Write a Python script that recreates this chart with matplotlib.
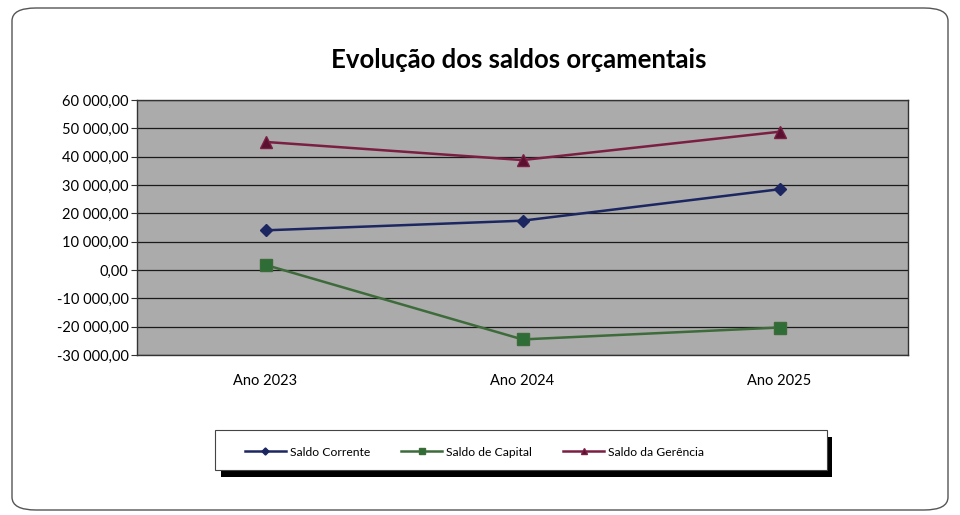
import matplotlib.pyplot as plt
from matplotlib.patches import FancyBboxPatch, Rectangle
from matplotlib.ticker import FuncFormatter, MultipleLocator

categories = ["Ano 2023", "Ano 2024", "Ano 2025"]
saldo_corrente = [14000, 17400, 28500]
saldo_capital = [1800, -24500, -20300]
saldo_gerencia = [45200, 38800, 48800]
series_names = ["Saldo Corrente", "Saldo de Capital", "Saldo da Gerência"]

W, H = 960, 515


def fmt_pt(v, pos):
    s = f"{abs(v):,.2f}".replace(",", " ").replace(".", ",")
    return ("-" if v < 0 else "") + s


def px_rect(x0, y0, x1, y1):
    # pixel box (top-left origin) -> figure fraction (x, y, w, h)
    return x0 / W, 1 - y1 / H, (x1 - x0) / W, (y1 - y0) / H


def main():
    plt.rcParams["font.family"] = ["Lato", "DejaVu Sans"]
    fig = plt.figure(figsize=(9.6, 5.15), dpi=100)
    fig.patch.set_facecolor("white")

    # outer rounded chart border
    bx, by, bw, bh = px_rect(12, 8, 948, 510)
    fig.patches.append(FancyBboxPatch((bx, by), bw, bh,
                                      boxstyle="round,pad=0,rounding_size=0.025",
                                      transform=fig.transFigure, fill=False,
                                      edgecolor="#555555", linewidth=1.0))

    ax = fig.add_axes(px_rect(137, 100, 908, 355))
    ax.set_facecolor("#ababab")
    x = range(len(categories))

    ax.plot(x, saldo_corrente, color="#1c2660", marker="D", markersize=6,
            linewidth=1.8, label=series_names[0])
    ax.plot(x, saldo_capital, color="#3d6b3a", marker="s", markersize=8,
            markerfacecolor="#2e6e36", linewidth=1.8, label=series_names[1])
    ax.plot(x, saldo_gerencia, color="#7a1e42", marker="^", markersize=8,
            markerfacecolor="#5a1030", linewidth=1.8, label=series_names[2])

    ax.set_xlim(-0.5, 2.5)
    ax.set_ylim(-30000, 60000)
    ax.yaxis.set_major_locator(MultipleLocator(10000))
    ax.yaxis.set_major_formatter(FuncFormatter(fmt_pt))
    ax.set_xticks(list(x))
    ax.set_xticklabels(categories)
    ax.grid(axis="y", color="#1a1a1a", linewidth=0.9)
    ax.set_axisbelow(True)
    for sp in ax.spines.values():
        sp.set_color("#333333")
        sp.set_linewidth(1.0)
    ax.tick_params(axis="y", labelsize=10.5, length=4, color="#333333", pad=2)
    ax.tick_params(axis="x", labelsize=10.5, length=0, pad=14)

    fig.text(519 / W, 1 - 60 / H, "Evolução dos saldos orçamentais",
             ha="center", va="center", fontsize=18.5, fontweight="bold")

    # legend box with offset shadow
    sx, sy, sw, sh = px_rect(221, 437, 832, 477)
    fig.patches.append(Rectangle((sx, sy), sw, sh, transform=fig.transFigure,
                                 facecolor="black", edgecolor="none", zorder=1))
    lx, ly, lw, lh = px_rect(215, 430, 827, 470)
    fig.patches.append(Rectangle((lx, ly), lw, lh, transform=fig.transFigure,
                                 facecolor="white", edgecolor="#444444",
                                 linewidth=0.8, zorder=2))
    leg = fig.legend(loc="center left", bbox_to_anchor=(240 / W, 1 - 452 / H),
                     ncol=3, fontsize=8.7, frameon=False, borderaxespad=0,
                     markerscale=0.6, handlelength=3.4, handletextpad=0.3,
                     columnspacing=2.6)
    leg.set_zorder(3)

    fig.savefig("out.png", dpi=100)


if __name__ == "__main__":
    main()
